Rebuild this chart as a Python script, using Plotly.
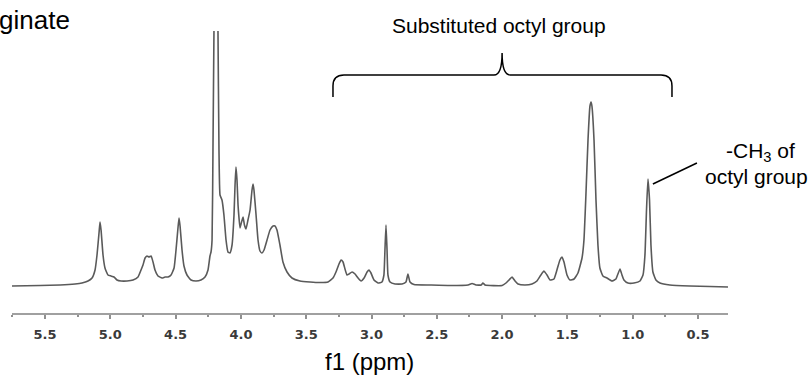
import plotly.graph_objects as go

# ---- spectrum (chemical shift in ppm, intensity in arbitrary units) ----
ppm = [
    5.753, 5.538, 5.385, 5.270, 5.217, 5.171, 5.140, 5.117, 5.102, 5.086,
    5.079, 5.071, 5.056, 5.041, 5.018, 4.995, 4.972, 4.949, 4.918, 4.872,
    4.826, 4.788, 4.765, 4.750, 4.734, 4.719, 4.704, 4.688, 4.673, 4.658,
    4.635, 4.604, 4.581, 4.558, 4.535, 4.512, 4.497, 4.482, 4.474, 4.466,
    4.451, 4.436, 4.413, 4.382, 4.344, 4.306, 4.275, 4.252, 4.237, 4.229,
    4.221, 4.214, 4.206, 4.191, 4.176, 4.168, 4.160, 4.145, 4.130, 4.114,
    4.099, 4.084, 4.068, 4.053, 4.045, 4.038, 4.030, 4.022, 4.007, 3.999,
    3.984, 3.973, 3.961, 3.946, 3.930, 3.915, 3.907, 3.900, 3.884, 3.869,
    3.854, 3.839, 3.823, 3.800, 3.777, 3.754, 3.739, 3.724, 3.701, 3.678,
    3.647, 3.609, 3.548, 3.471, 3.394, 3.333, 3.295, 3.272, 3.249, 3.233,
    3.218, 3.203, 3.188, 3.172, 3.149, 3.126, 3.103, 3.080, 3.057, 3.034,
    3.019, 3.004, 2.981, 2.950, 2.920, 2.905, 2.897, 2.889, 2.881, 2.874,
    2.858, 2.820, 2.766, 2.736, 2.721, 2.705, 2.675, 2.552, 2.399, 2.260,
    2.230, 2.200, 2.160, 2.147, 2.130, 2.000, 1.970, 1.947, 1.924, 1.901,
    1.878, 1.825, 1.771, 1.733, 1.703, 1.680, 1.656, 1.633, 1.603, 1.580,
    1.557, 1.541, 1.526, 1.503, 1.480, 1.449, 1.419, 1.388, 1.373, 1.358,
    1.342, 1.327, 1.319, 1.312, 1.296, 1.281, 1.266, 1.251, 1.228, 1.197,
    1.159, 1.128, 1.113, 1.097, 1.082, 1.067, 1.036, 0.990, 0.944, 0.921,
    0.906, 0.894, 0.883, 0.871, 0.860, 0.845, 0.822, 0.791, 0.715, 0.562,
    0.408, 0.270,
]
intensity = [
    -1, -0.5, 0, 1, 2, 4, 7, 15, 30, 53,
    63, 55, 30, 17, 10, 9, 8, 5, 4, 4,
    5, 8, 15, 20, 27, 29, 28, 29, 23, 15,
    9, 7, 8, 8, 10, 17, 35, 57, 67, 59,
    35, 19, 10, 5, 4, 5, 8, 15, 29, 33,
    45, 135, 260, 420, 260, 135, 90, 85, 70, 45,
    33, 32, 40, 70, 100, 118, 105, 80, 57, 61,
    68, 60, 56, 65, 75, 95, 101, 95, 70, 45,
    34, 32, 35, 45, 55, 59, 59, 55, 40, 23,
    13, 7, 4, 3, 2.5, 3, 7, 13, 21, 25,
    23, 16, 10, 11, 13, 11, 7, 4, 7, 13,
    15, 12, 5, 2, 3, 10, 35, 60, 35, 10,
    3, 1, 1, 3, 11, 3, 0.5, 0, -0.5, 0,
    1.5, 0, 0, 2, 0, -0.5, 2, 5, 8, 4,
    1, 0, 1, 4, 10, 14, 10, 5, 6, 15,
    25, 28, 23, 10, 5, 6, 12, 27, 45, 90,
    145, 179, 183, 179, 145, 85, 40, 17, 9, 7,
    4, 6, 11, 16, 10, 5, 2, 2, 4, 10,
    30, 75, 106, 85, 40, 13, 5, 2, 0, -1,
    -1.5, -2,
]
assert len(ppm) == len(intensity)

tick_values = [5.5, 5.0, 4.5, 4.0, 3.5, 3.0, 2.5, 2.0, 1.5, 1.0, 0.5]
tick_labels = ["5.5", "5.0", "4.5", "4.0", "3.5", "3.0", "2.5", "2.0", "1.5", "1.0", "0.5"]
minor_ticks = [5.75, 5.25, 4.75, 4.25, 3.75, 3.25, 2.75, 2.25, 1.75, 1.25, 0.75]

x_range = [5.753, 0.270]
y_range = [-28, 254]

# bracket over the octyl region (ppm span) and the CH3 pointer
bracket_ppm = (3.295, 0.699)
bracket_mid = 2.0

W, H = 812, 376
ML, MR, MT, MB = 12, 84, 31, 63
PW, PH = W - ML - MR, H - MT - MB


def xp(px):
    return (px - ML) / PW


def yp(py):
    return (H - MB - py) / PH


FONT = "Liberation Sans, Arial, sans-serif"

fig = go.Figure()
fig.add_trace(go.Scatter(
    x=ppm, y=intensity, mode="lines",
    line=dict(color="#5a5a5a", width=1.6, shape="spline", smoothing=0.4),
    hoverinfo="skip", showlegend=False,
))

# curly bracket
L, R = bracket_ppm
r = 0.084
yb, yt, ytip = 188, 210, 232
path = (
    f"M {L},{yb} L {L},{yt - 11} Q {L},{yt} {L - r},{yt} "
    f"L {bracket_mid + 0.062},{yt} Q {bracket_mid},{yt} {bracket_mid},{ytip} "
    f"Q {bracket_mid},{yt} {bracket_mid - 0.062},{yt} "
    f"L {R + r},{yt} Q {R},{yt} {R},{yt - 11} L {R},{yb}"
)
fig.add_shape(type="path", path=path, xref="x", yref="y",
              line=dict(color="black", width=1.5))

# pointer to CH3 peak
fig.add_shape(type="line", xref="x", yref="y", x0=0.845, y0=101, x1=0.508, y1=122,
              line=dict(color="black", width=1.5))

annotations = [
    dict(text="Alginate", x=xp(72), y=yp(20), xanchor="right", yanchor="middle", size=26),
    dict(text="Substituted octyl group", x=xp(499), y=yp(25), xanchor="center", yanchor="middle", size=21),
    dict(text="-CH<sub>3</sub> of", x=xp(760), y=yp(152), xanchor="center", yanchor="middle", size=21),
    dict(text="octyl group", x=xp(757), y=yp(176), xanchor="center", yanchor="middle", size=21),
    dict(text="f1 (ppm)", x=xp(369), y=yp(361), xanchor="center", yanchor="middle", size=24),
]
for a in annotations:
    fig.add_annotation(text=a["text"], x=a["x"], y=a["y"], xref="paper", yref="paper",
                       xanchor=a["xanchor"], yanchor=a["yanchor"], showarrow=False,
                       font=dict(family=FONT, size=a["size"], color="black"))

fig.update_layout(
    width=W, height=H,
    margin=dict(l=ML, r=MR, t=MT, b=MB, pad=0),
    paper_bgcolor="white", plot_bgcolor="white",
    xaxis=dict(
        range=x_range, showgrid=False, zeroline=False,
        showline=True, linecolor="#a0a0a0", linewidth=2,
        ticks="outside", ticklen=4, tickwidth=1.5, tickcolor="#909090",
        tickvals=tick_values, ticktext=tick_labels,
        tickfont=dict(family="DejaVu Sans", size=13, color="#3a3a3a", weight="bold"),
        ticklabelstandoff=4,
        minor=dict(tickvals=minor_ticks,
                   ticklen=2, tickwidth=1.5, tickcolor="#909090", ticks="outside"),
    ),
    yaxis=dict(range=y_range, visible=False),
)

fig.write_html("out.html")
